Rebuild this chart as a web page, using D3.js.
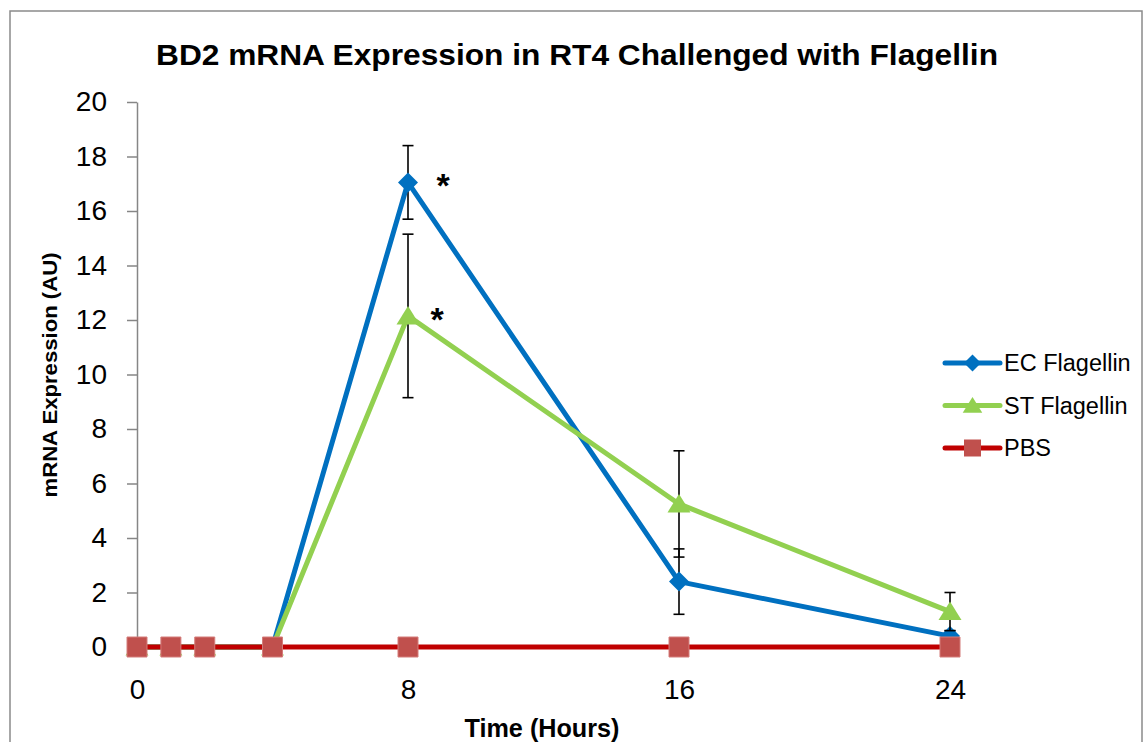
<!DOCTYPE html>
<html>
<head>
<meta charset="utf-8">
<script src="https://cdn.jsdelivr.net/npm/d3@7"></script>
<style>
  html, body { margin: 0; padding: 0; background: #fff; }
  svg { display: block; font-family: "Liberation Sans", Arial, sans-serif; }
</style>
</head>
<body>
<svg id="chart" width="1145" height="742"></svg>
<script>
// Time points (hours) and the three series.
var times = [0, 1, 2, 4, 8, 16, 24];
var ecMean = [0, 0, 0, 0, 17.05, 2.4, 0.4];
var ecErr = [0, 0, 0, 0, 1.35, 1.2, 0.2];
var stMean = [0, 0, 0, 0, 12.15, 5.25, 1.3];
var stErr = [0, 0, 0, 0, 3.0, 1.95, 0.7];
var pbsMean = [0, 0, 0, 0, 0, 0, 0];
var pbsErr = [0, 0, 0, 0, 0, 0, 0];

var seriesNames = ['EC Flagellin', 'ST Flagellin', 'PBS'];
var xTicks = [0, 8, 16, 24];
var yTicks = [0, 2, 4, 6, 8, 10, 12, 14, 16, 18, 20];
// significance marks: series index, time point
var starSeries = [0, 1];
var starTimes = [8, 8];

var series = [
    { name: seriesNames[0], mean: ecMean, err: ecErr, color: '#0070C0', marker: 'diamond' },
    { name: seriesNames[1], mean: stMean, err: stErr, color: '#92D050', marker: 'triangle' },
    { name: seriesNames[2], mean: pbsMean, err: pbsErr, color: '#C00000', marker: 'square' }
];

var svg = d3.select('#chart');

// outer chart frame
svg.append('rect')
    .attr('x', 10).attr('y', 11)
    .attr('width', 1132).attr('height', 760)
    .attr('fill', 'none')
    .attr('stroke', '#8a8a8a')
    .attr('stroke-width', 1.5);

var x = d3.scaleLinear().domain([0, 24]).range([137, 950]);
var y = d3.scaleLinear().domain([0, 20]).range([647, 102]);

// y axis
var yAxis = svg.append('g')
    .attr('transform', 'translate(' + x(0) + ',0)')
    .call(d3.axisLeft(y).tickValues(yTicks).tickSize(10).tickPadding(20).tickSizeOuter(0));
yAxis.select('.domain').attr('stroke', '#868686').attr('stroke-width', 1.5);
yAxis.selectAll('.tick line').attr('stroke', '#868686').attr('stroke-width', 1.5);
yAxis.selectAll('.tick text')
    .attr('font-size', 28)
    .attr('font-family', '"Liberation Sans", Arial, sans-serif')
    .attr('fill', '#000');

// x axis (sits under the PBS line)
var xAxis = svg.append('g')
    .attr('transform', 'translate(0,' + y(0) + ')')
    .call(d3.axisBottom(x).tickValues(xTicks).tickSize(0).tickPadding(32));
xAxis.select('.domain').attr('stroke', '#868686').attr('stroke-width', 1.5);
xAxis.selectAll('.tick text')
    .attr('font-size', 28)
    .attr('font-family', '"Liberation Sans", Arial, sans-serif')
    .attr('fill', '#000');

// titles
svg.append('text')
    .attr('x', 577).attr('y', 65)
    .attr('text-anchor', 'middle')
    .attr('font-size', 29).attr('font-weight', 'bold')
    .attr('textLength', 842).attr('lengthAdjust', 'spacingAndGlyphs')
    .text('BD2 mRNA Expression in RT4 Challenged with Flagellin');

svg.append('text')
    .attr('transform', 'translate(57,375) rotate(-90)')
    .attr('text-anchor', 'middle')
    .attr('font-size', 21).attr('font-weight', 'bold')
    .attr('textLength', 245).attr('lengthAdjust', 'spacingAndGlyphs')
    .text('mRNA Expression (AU)');

svg.append('text')
    .attr('x', 542).attr('y', 737)
    .attr('text-anchor', 'middle')
    .attr('font-size', 25).attr('font-weight', 'bold')
    .attr('textLength', 155).attr('lengthAdjust', 'spacingAndGlyphs')
    .text('Time (Hours)');

function markerPath(type, s) {
    if (type === 'diamond') return 'M0,' + (-s) + 'L' + s + ',0L0,' + s + 'L' + (-s) + ',0Z';
    if (type === 'triangle') return 'M0,' + (-s) + 'L' + (s * 1.15) + ',' + (s * 0.85) + 'L' + (-s * 1.15) + ',' + (s * 0.85) + 'Z';
    return 'M' + (-s) + ',' + (-s) + 'H' + s + 'V' + s + 'H' + (-s) + 'Z';
}

var line = d3.line()
    .x(function (d) { return x(d.t); })
    .y(function (d) { return y(d.v); });

series.forEach(function (s) {
    var pts = times.map(function (t, i) { return { t: t, v: s.mean[i], e: s.err[i] }; });
    var g = svg.append('g');

    // error bars
    var eb = g.selectAll('g.err')
        .data(pts.filter(function (d) { return d.e > 0; }))
        .enter().append('g')
        .attr('stroke', '#000').attr('stroke-width', 1.6);
    eb.append('line')
        .attr('x1', function (d) { return x(d.t); })
        .attr('x2', function (d) { return x(d.t); })
        .attr('y1', function (d) { return y(d.v + d.e); })
        .attr('y2', function (d) { return y(d.v - d.e); });
    eb.append('line')
        .attr('x1', function (d) { return x(d.t) - 5.5; })
        .attr('x2', function (d) { return x(d.t) + 5.5; })
        .attr('y1', function (d) { return y(d.v + d.e); })
        .attr('y2', function (d) { return y(d.v + d.e); });
    eb.append('line')
        .attr('x1', function (d) { return x(d.t) - 5.5; })
        .attr('x2', function (d) { return x(d.t) + 5.5; })
        .attr('y1', function (d) { return y(d.v - d.e); })
        .attr('y2', function (d) { return y(d.v - d.e); });

    g.append('path')
        .datum(pts)
        .attr('d', line)
        .attr('fill', 'none')
        .attr('stroke', s.color)
        .attr('stroke-width', 5)
        .attr('stroke-linejoin', 'round');

    var fill = s.marker === 'square' ? '#C0504D' : s.color;
    g.selectAll('path.mk')
        .data(pts)
        .enter().append('path')
        .attr('class', 'mk')
        .attr('transform', function (d) { return 'translate(' + x(d.t) + ',' + y(d.v) + ')'; })
        .attr('d', markerPath(s.marker, 10))
        .attr('fill', fill)
        .attr('stroke', s.marker === 'square' ? '#D47C7A' : 'none')
        .attr('stroke-width', 1);
});

// significance asterisks
svg.selectAll('text.star')
    .data(starSeries)
    .enter().append('text')
    .attr('class', 'star')
    .attr('x', function (si, i) { return x(starTimes[i]) + (si === 0 ? 35 : 29); })
    .attr('y', function (si, i) {
        var k = times.indexOf(starTimes[i]);
        return y(series[si].mean[k]) + 15;
    })
    .attr('text-anchor', 'middle')
    .attr('font-size', 34)
    .attr('font-weight', 'bold')
    .text('*');

// legend
var legend = svg.append('g');
var lg = legend.selectAll('g')
    .data(series)
    .enter().append('g')
    .attr('transform', function (d, i) { return 'translate(945,' + (363 + i * 42.5) + ')'; });
lg.append('line')
    .attr('x1', 0).attr('x2', 55)
    .attr('stroke', function (d) { return d.color; })
    .attr('stroke-width', 5)
    .attr('stroke-linecap', 'round');
lg.append('path')
    .attr('transform', 'translate(27.5,0)')
    .attr('d', function (d) { return markerPath(d.marker, 8.5); })
    .attr('fill', function (d) { return d.marker === 'square' ? '#C0504D' : d.color; });
lg.append('text')
    .attr('x', 59)
    .attr('dy', '0.36em')
    .attr('font-size', 23.5)
    .text(function (d) { return d.name; });
</script>
</body>
</html>
